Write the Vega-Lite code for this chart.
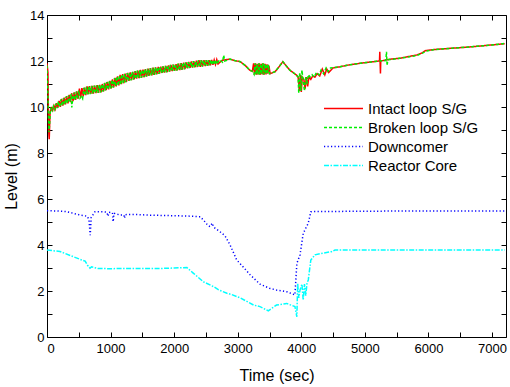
{
  "$schema": "https://vega.github.io/schema/vega-lite/v6.json",
  "autosize": "none",
  "width": 459,
  "height": 322,
  "padding": {"left": 47, "top": 15, "right": 4, "bottom": 50},
  "background": "white",
  "config": {
    "view": {"stroke": "black", "strokeWidth": 1},
    "font": "Liberation Sans",
    "axis": {"domain": false, "grid": false, "tickColor": "black", "tickSize": -5, "tickWidth": 1, "labelColor": "black", "labelFontSize": 13, "titleFontSize": 16, "titleFontWeight": "normal", "titleColor": "black", "labelFont": "Liberation Sans", "titleFont": "Liberation Sans"}
  },
  "data": {"values": [
{"s":"Intact loop S/G","t":0,"v":11.9},{"s":"Intact loop S/G","t":15,"v":11.5},{"s":"Intact loop S/G","t":25,"v":9.0},{"s":"Intact loop S/G","t":35,"v":8.6},{"s":"Intact loop S/G","t":45,"v":9.5},
{"s":"Intact loop S/G","t":50,"v":9.8},{"s":"Intact loop S/G","t":70,"v":9.95},{"s":"Intact loop S/G","t":90,"v":9.85},{"s":"Intact loop S/G","t":110,"v":10.06},{"s":"Intact loop S/G","t":130,"v":9.91},{"s":"Intact loop S/G","t":150,"v":10.17},{"s":"Intact loop S/G","t":170,"v":9.96},{"s":"Intact loop S/G","t":190,"v":10.27},{"s":"Intact loop S/G","t":210,"v":10.01},{"s":"Intact loop S/G","t":230,"v":10.35},{"s":"Intact loop S/G","t":250,"v":10.06},{"s":"Intact loop S/G","t":270,"v":10.41},{"s":"Intact loop S/G","t":290,"v":10.11},{"s":"Intact loop S/G","t":310,"v":10.47},{"s":"Intact loop S/G","t":330,"v":10.16},{"s":"Intact loop S/G","t":350,"v":10.53},{"s":"Intact loop S/G","t":370,"v":10.21},{"s":"Intact loop S/G","t":390,"v":10.59},{"s":"Intact loop S/G","t":410,"v":10.26},{"s":"Intact loop S/G","t":430,"v":10.64},{"s":"Intact loop S/G","t":450,"v":10.31},{"s":"Intact loop S/G","t":470,"v":10.68},{"s":"Intact loop S/G","t":490,"v":10.36},{"s":"Intact loop S/G","t":510,"v":10.8},{"s":"Intact loop S/G","t":530,"v":10.41},{"s":"Intact loop S/G","t":550,"v":10.82},{"s":"Intact loop S/G","t":570,"v":10.47},{"s":"Intact loop S/G","t":590,"v":10.84},{"s":"Intact loop S/G","t":610,"v":10.52},{"s":"Intact loop S/G","t":630,"v":10.9},{"s":"Intact loop S/G","t":650,"v":10.56},{"s":"Intact loop S/G","t":670,"v":10.91},{"s":"Intact loop S/G","t":690,"v":10.57},{"s":"Intact loop S/G","t":710,"v":10.92},{"s":"Intact loop S/G","t":730,"v":10.58},{"s":"Intact loop S/G","t":750,"v":10.93},{"s":"Intact loop S/G","t":770,"v":10.6},{"s":"Intact loop S/G","t":790,"v":10.95},{"s":"Intact loop S/G","t":810,"v":10.61},{"s":"Intact loop S/G","t":830,"v":10.96},{"s":"Intact loop S/G","t":850,"v":10.64},{"s":"Intact loop S/G","t":870,"v":11.0},{"s":"Intact loop S/G","t":890,"v":10.68},{"s":"Intact loop S/G","t":910,"v":11.05},{"s":"Intact loop S/G","t":930,"v":10.73},{"s":"Intact loop S/G","t":950,"v":11.09},{"s":"Intact loop S/G","t":970,"v":10.77},{"s":"Intact loop S/G","t":990,"v":11.14},{"s":"Intact loop S/G","t":1010,"v":10.81},{"s":"Intact loop S/G","t":1030,"v":11.2},{"s":"Intact loop S/G","t":1050,"v":10.85},{"s":"Intact loop S/G","t":1070,"v":11.27},{"s":"Intact loop S/G","t":1090,"v":10.9},{"s":"Intact loop S/G","t":1110,"v":11.33},{"s":"Intact loop S/G","t":1130,"v":10.94},{"s":"Intact loop S/G","t":1150,"v":11.4},{"s":"Intact loop S/G","t":1170,"v":10.99},{"s":"Intact loop S/G","t":1190,"v":11.43},{"s":"Intact loop S/G","t":1210,"v":11.04},{"s":"Intact loop S/G","t":1230,"v":11.45},{"s":"Intact loop S/G","t":1250,"v":11.09},{"s":"Intact loop S/G","t":1270,"v":11.48},{"s":"Intact loop S/G","t":1290,"v":11.14},{"s":"Intact loop S/G","t":1310,"v":11.51},{"s":"Intact loop S/G","t":1330,"v":11.17},{"s":"Intact loop S/G","t":1350,"v":11.53},{"s":"Intact loop S/G","t":1370,"v":11.2},{"s":"Intact loop S/G","t":1390,"v":11.56},{"s":"Intact loop S/G","t":1410,"v":11.23},{"s":"Intact loop S/G","t":1430,"v":11.58},{"s":"Intact loop S/G","t":1450,"v":11.25},{"s":"Intact loop S/G","t":1470,"v":11.61},{"s":"Intact loop S/G","t":1490,"v":11.28},{"s":"Intact loop S/G","t":1510,"v":11.63},{"s":"Intact loop S/G","t":1530,"v":11.3},{"s":"Intact loop S/G","t":1550,"v":11.65},{"s":"Intact loop S/G","t":1570,"v":11.33},{"s":"Intact loop S/G","t":1590,"v":11.67},{"s":"Intact loop S/G","t":1610,"v":11.36},{"s":"Intact loop S/G","t":1630,"v":11.69},{"s":"Intact loop S/G","t":1650,"v":11.38},{"s":"Intact loop S/G","t":1670,"v":11.71},{"s":"Intact loop S/G","t":1690,"v":11.4},{"s":"Intact loop S/G","t":1710,"v":11.72},{"s":"Intact loop S/G","t":1730,"v":11.43},{"s":"Intact loop S/G","t":1750,"v":11.74},{"s":"Intact loop S/G","t":1770,"v":11.45},{"s":"Intact loop S/G","t":1790,"v":11.75},{"s":"Intact loop S/G","t":1810,"v":11.48},{"s":"Intact loop S/G","t":1830,"v":11.77},{"s":"Intact loop S/G","t":1850,"v":11.5},{"s":"Intact loop S/G","t":1870,"v":11.79},{"s":"Intact loop S/G","t":1890,"v":11.52},{"s":"Intact loop S/G","t":1910,"v":11.81},{"s":"Intact loop S/G","t":1930,"v":11.54},{"s":"Intact loop S/G","t":1950,"v":11.83},{"s":"Intact loop S/G","t":1970,"v":11.56},{"s":"Intact loop S/G","t":1990,"v":11.84},{"s":"Intact loop S/G","t":2010,"v":11.57},{"s":"Intact loop S/G","t":2030,"v":11.86},{"s":"Intact loop S/G","t":2050,"v":11.59},{"s":"Intact loop S/G","t":2070,"v":11.89},{"s":"Intact loop S/G","t":2090,"v":11.6},{"s":"Intact loop S/G","t":2110,"v":11.91},{"s":"Intact loop S/G","t":2130,"v":11.63},{"s":"Intact loop S/G","t":2150,"v":11.93},{"s":"Intact loop S/G","t":2170,"v":11.65},{"s":"Intact loop S/G","t":2190,"v":11.94},{"s":"Intact loop S/G","t":2210,"v":11.68},{"s":"Intact loop S/G","t":2230,"v":11.96},{"s":"Intact loop S/G","t":2250,"v":11.7},{"s":"Intact loop S/G","t":2270,"v":11.98},{"s":"Intact loop S/G","t":2290,"v":11.71},{"s":"Intact loop S/G","t":2310,"v":11.99},{"s":"Intact loop S/G","t":2330,"v":11.73},{"s":"Intact loop S/G","t":2350,"v":12.01},{"s":"Intact loop S/G","t":2370,"v":11.74},{"s":"Intact loop S/G","t":2390,"v":12.04},{"s":"Intact loop S/G","t":2410,"v":11.75},{"s":"Intact loop S/G","t":2430,"v":12.04},{"s":"Intact loop S/G","t":2450,"v":11.77},{"s":"Intact loop S/G","t":2470,"v":12.04},{"s":"Intact loop S/G","t":2490,"v":11.78},{"s":"Intact loop S/G","t":2510,"v":12.04},{"s":"Intact loop S/G","t":2530,"v":11.79},{"s":"Intact loop S/G","t":2550,"v":12.04},{"s":"Intact loop S/G","t":2570,"v":11.81},{"s":"Intact loop S/G","t":2590,"v":12.05},{"s":"Intact loop S/G","t":2610,"v":11.83},{"s":"Intact loop S/G","t":2630,"v":12.05},{"s":"Intact loop S/G","t":2650,"v":11.85},{"s":"Intact loop S/G","t":2670,"v":12.06},{"s":"Intact loop S/G","t":2690,"v":11.87},
{"s":"Intact loop S/G","t":2750,"v":12.02},{"s":"Intact loop S/G","t":2800,"v":12.05},{"s":"Intact loop S/G","t":2880,"v":12.08},{"s":"Intact loop S/G","t":2950,"v":12.02},{"s":"Intact loop S/G","t":3040,"v":11.97},{"s":"Intact loop S/G","t":3120,"v":11.8},{"s":"Intact loop S/G","t":3190,"v":11.6},{"s":"Intact loop S/G","t":3230,"v":11.55},
{"s":"Intact loop S/G","t":3250,"v":11.9},{"s":"Intact loop S/G","t":3265,"v":11.42},{"s":"Intact loop S/G","t":3280,"v":11.9},{"s":"Intact loop S/G","t":3295,"v":11.4},{"s":"Intact loop S/G","t":3310,"v":11.88},{"s":"Intact loop S/G","t":3325,"v":11.42},{"s":"Intact loop S/G","t":3340,"v":11.9},{"s":"Intact loop S/G","t":3355,"v":11.4},{"s":"Intact loop S/G","t":3370,"v":11.88},{"s":"Intact loop S/G","t":3385,"v":11.42},{"s":"Intact loop S/G","t":3400,"v":11.9},{"s":"Intact loop S/G","t":3415,"v":11.4},{"s":"Intact loop S/G","t":3430,"v":11.88},{"s":"Intact loop S/G","t":3445,"v":11.42},{"s":"Intact loop S/G","t":3460,"v":11.86},{"s":"Intact loop S/G","t":3475,"v":11.45},{"s":"Intact loop S/G","t":3490,"v":11.8},{"s":"Intact loop S/G","t":3510,"v":11.45},
{"s":"Intact loop S/G","t":3590,"v":11.54},{"s":"Intact loop S/G","t":3650,"v":11.75},{"s":"Intact loop S/G","t":3710,"v":11.97},{"s":"Intact loop S/G","t":3760,"v":11.8},{"s":"Intact loop S/G","t":3820,"v":11.6},{"s":"Intact loop S/G","t":3870,"v":11.5},{"s":"Intact loop S/G","t":3920,"v":11.4},{"s":"Intact loop S/G","t":3950,"v":11.3},{"s":"Intact loop S/G","t":3970,"v":10.7},{"s":"Intact loop S/G","t":3985,"v":11.4},{"s":"Intact loop S/G","t":4000,"v":10.65},{"s":"Intact loop S/G","t":4015,"v":11.3},{"s":"Intact loop S/G","t":4040,"v":11.2},{"s":"Intact loop S/G","t":4060,"v":10.8},{"s":"Intact loop S/G","t":4080,"v":11.3},{"s":"Intact loop S/G","t":4100,"v":10.9},{"s":"Intact loop S/G","t":4120,"v":11.3},{"s":"Intact loop S/G","t":4150,"v":11.2},{"s":"Intact loop S/G","t":4180,"v":11.35},{"s":"Intact loop S/G","t":4215,"v":11.3},{"s":"Intact loop S/G","t":4250,"v":11.45},{"s":"Intact loop S/G","t":4290,"v":11.35},{"s":"Intact loop S/G","t":4330,"v":11.65},{"s":"Intact loop S/G","t":4370,"v":11.4},{"s":"Intact loop S/G","t":4400,"v":11.65},{"s":"Intact loop S/G","t":4430,"v":11.5},{"s":"Intact loop S/G","t":4500,"v":11.7},{"s":"Intact loop S/G","t":4610,"v":11.75},{"s":"Intact loop S/G","t":4750,"v":11.83},{"s":"Intact loop S/G","t":4924,"v":11.9},{"s":"Intact loop S/G","t":5100,"v":11.96},{"s":"Intact loop S/G","t":5230,"v":12.0},{"s":"Intact loop S/G","t":5235,"v":12.4},{"s":"Intact loop S/G","t":5245,"v":11.46},{"s":"Intact loop S/G","t":5250,"v":12.0},{"s":"Intact loop S/G","t":5400,"v":12.08},{"s":"Intact loop S/G","t":5553,"v":12.12},{"s":"Intact loop S/G","t":5700,"v":12.2},{"s":"Intact loop S/G","t":5815,"v":12.26},{"s":"Intact loop S/G","t":5900,"v":12.35},{"s":"Intact loop S/G","t":5950,"v":12.45},{"s":"Intact loop S/G","t":6100,"v":12.5},{"s":"Intact loop S/G","t":6340,"v":12.55},{"s":"Intact loop S/G","t":6600,"v":12.6},{"s":"Intact loop S/G","t":6810,"v":12.65},{"s":"Intact loop S/G","t":7000,"v":12.7},{"s":"Intact loop S/G","t":7200,"v":12.75},
{"s":"Broken loop S/G","t":0,"v":11.8},{"s":"Broken loop S/G","t":15,"v":10.5},{"s":"Broken loop S/G","t":30,"v":8.9},{"s":"Broken loop S/G","t":40,"v":9.2},{"s":"Broken loop S/G","t":50,"v":9.75},
{"s":"Broken loop S/G","t":60,"v":9.93},{"s":"Broken loop S/G","t":80,"v":9.84},{"s":"Broken loop S/G","t":100,"v":10.03},{"s":"Broken loop S/G","t":120,"v":9.89},{"s":"Broken loop S/G","t":140,"v":10.14},{"s":"Broken loop S/G","t":160,"v":9.95},{"s":"Broken loop S/G","t":180,"v":10.25},{"s":"Broken loop S/G","t":200,"v":10.0},{"s":"Broken loop S/G","t":220,"v":10.33},{"s":"Broken loop S/G","t":240,"v":10.05},{"s":"Broken loop S/G","t":260,"v":10.39},{"s":"Broken loop S/G","t":280,"v":10.1},{"s":"Broken loop S/G","t":300,"v":10.45},{"s":"Broken loop S/G","t":320,"v":10.15},{"s":"Broken loop S/G","t":340,"v":10.51},{"s":"Broken loop S/G","t":360,"v":10.2},{"s":"Broken loop S/G","t":380,"v":10.57},{"s":"Broken loop S/G","t":390,"v":9.98},{"s":"Broken loop S/G","t":400,"v":10.25},{"s":"Broken loop S/G","t":420,"v":10.62},{"s":"Broken loop S/G","t":440,"v":10.3},{"s":"Broken loop S/G","t":460,"v":10.67},{"s":"Broken loop S/G","t":480,"v":10.35},{"s":"Broken loop S/G","t":500,"v":10.71},{"s":"Broken loop S/G","t":520,"v":10.38},{"s":"Broken loop S/G","t":540,"v":10.45},{"s":"Broken loop S/G","t":560,"v":10.36},{"s":"Broken loop S/G","t":580,"v":10.83},{"s":"Broken loop S/G","t":600,"v":10.5},{"s":"Broken loop S/G","t":620,"v":10.88},{"s":"Broken loop S/G","t":640,"v":10.55},{"s":"Broken loop S/G","t":660,"v":10.91},{"s":"Broken loop S/G","t":680,"v":10.56},{"s":"Broken loop S/G","t":700,"v":10.92},{"s":"Broken loop S/G","t":720,"v":10.58},{"s":"Broken loop S/G","t":740,"v":10.93},{"s":"Broken loop S/G","t":760,"v":10.59},{"s":"Broken loop S/G","t":780,"v":10.94},{"s":"Broken loop S/G","t":800,"v":10.61},{"s":"Broken loop S/G","t":820,"v":10.96},{"s":"Broken loop S/G","t":840,"v":10.63},{"s":"Broken loop S/G","t":860,"v":10.99},{"s":"Broken loop S/G","t":880,"v":10.67},{"s":"Broken loop S/G","t":900,"v":11.04},{"s":"Broken loop S/G","t":920,"v":10.71},{"s":"Broken loop S/G","t":940,"v":11.08},{"s":"Broken loop S/G","t":960,"v":10.76},{"s":"Broken loop S/G","t":980,"v":11.12},{"s":"Broken loop S/G","t":1000,"v":10.8},{"s":"Broken loop S/G","t":1020,"v":11.18},{"s":"Broken loop S/G","t":1040,"v":10.84},{"s":"Broken loop S/G","t":1060,"v":11.25},{"s":"Broken loop S/G","t":1080,"v":10.89},{"s":"Broken loop S/G","t":1100,"v":11.32},{"s":"Broken loop S/G","t":1120,"v":10.93},{"s":"Broken loop S/G","t":1140,"v":11.38},{"s":"Broken loop S/G","t":1160,"v":10.97},{"s":"Broken loop S/G","t":1180,"v":11.42},{"s":"Broken loop S/G","t":1200,"v":11.02},{"s":"Broken loop S/G","t":1220,"v":11.45},{"s":"Broken loop S/G","t":1240,"v":11.07},{"s":"Broken loop S/G","t":1260,"v":11.47},{"s":"Broken loop S/G","t":1280,"v":11.12},{"s":"Broken loop S/G","t":1300,"v":11.5},{"s":"Broken loop S/G","t":1320,"v":11.16},{"s":"Broken loop S/G","t":1340,"v":11.53},{"s":"Broken loop S/G","t":1360,"v":11.19},{"s":"Broken loop S/G","t":1380,"v":11.55},{"s":"Broken loop S/G","t":1400,"v":11.22},{"s":"Broken loop S/G","t":1420,"v":11.58},{"s":"Broken loop S/G","t":1440,"v":11.25},{"s":"Broken loop S/G","t":1460,"v":11.6},{"s":"Broken loop S/G","t":1480,"v":11.27},{"s":"Broken loop S/G","t":1500,"v":11.62},{"s":"Broken loop S/G","t":1520,"v":11.3},{"s":"Broken loop S/G","t":1540,"v":11.65},{"s":"Broken loop S/G","t":1560,"v":11.32},{"s":"Broken loop S/G","t":1580,"v":11.66},{"s":"Broken loop S/G","t":1600,"v":11.35},{"s":"Broken loop S/G","t":1620,"v":11.69},{"s":"Broken loop S/G","t":1640,"v":11.37},{"s":"Broken loop S/G","t":1660,"v":11.7},{"s":"Broken loop S/G","t":1680,"v":11.4},{"s":"Broken loop S/G","t":1700,"v":11.72},{"s":"Broken loop S/G","t":1720,"v":11.42},{"s":"Broken loop S/G","t":1740,"v":11.73},{"s":"Broken loop S/G","t":1760,"v":11.44},{"s":"Broken loop S/G","t":1780,"v":11.75},{"s":"Broken loop S/G","t":1800,"v":11.47},{"s":"Broken loop S/G","t":1820,"v":11.77},{"s":"Broken loop S/G","t":1840,"v":11.49},{"s":"Broken loop S/G","t":1860,"v":11.79},{"s":"Broken loop S/G","t":1880,"v":11.51},{"s":"Broken loop S/G","t":1900,"v":11.81},{"s":"Broken loop S/G","t":1920,"v":11.54},{"s":"Broken loop S/G","t":1940,"v":11.83},{"s":"Broken loop S/G","t":1960,"v":11.55},{"s":"Broken loop S/G","t":1980,"v":11.84},{"s":"Broken loop S/G","t":2000,"v":11.57},{"s":"Broken loop S/G","t":2020,"v":11.86},{"s":"Broken loop S/G","t":2040,"v":11.58},{"s":"Broken loop S/G","t":2060,"v":11.88},{"s":"Broken loop S/G","t":2080,"v":11.6},{"s":"Broken loop S/G","t":2100,"v":11.9},{"s":"Broken loop S/G","t":2120,"v":11.62},{"s":"Broken loop S/G","t":2140,"v":11.92},{"s":"Broken loop S/G","t":2160,"v":11.64},{"s":"Broken loop S/G","t":2180,"v":11.94},{"s":"Broken loop S/G","t":2200,"v":11.67},{"s":"Broken loop S/G","t":2220,"v":11.95},{"s":"Broken loop S/G","t":2240,"v":11.69},{"s":"Broken loop S/G","t":2260,"v":11.97},{"s":"Broken loop S/G","t":2280,"v":11.71},{"s":"Broken loop S/G","t":2300,"v":11.99},{"s":"Broken loop S/G","t":2320,"v":11.72},{"s":"Broken loop S/G","t":2340,"v":12.0},{"s":"Broken loop S/G","t":2360,"v":11.74},{"s":"Broken loop S/G","t":2380,"v":12.03},{"s":"Broken loop S/G","t":2400,"v":11.75},{"s":"Broken loop S/G","t":2420,"v":12.04},{"s":"Broken loop S/G","t":2440,"v":11.76},{"s":"Broken loop S/G","t":2460,"v":12.04},{"s":"Broken loop S/G","t":2480,"v":11.78},{"s":"Broken loop S/G","t":2500,"v":12.04},{"s":"Broken loop S/G","t":2520,"v":11.79},{"s":"Broken loop S/G","t":2540,"v":12.04},{"s":"Broken loop S/G","t":2560,"v":11.81},{"s":"Broken loop S/G","t":2580,"v":12.05},{"s":"Broken loop S/G","t":2600,"v":11.83},{"s":"Broken loop S/G","t":2620,"v":12.05},{"s":"Broken loop S/G","t":2640,"v":11.84},{"s":"Broken loop S/G","t":2660,"v":12.05},{"s":"Broken loop S/G","t":2680,"v":11.86},{"s":"Broken loop S/G","t":2710,"v":12.06},
{"s":"Broken loop S/G","t":2760,"v":11.95},{"s":"Broken loop S/G","t":2780,"v":12.25},{"s":"Broken loop S/G","t":2795,"v":12.0},{"s":"Broken loop S/G","t":2880,"v":12.08},{"s":"Broken loop S/G","t":2950,"v":12.02},{"s":"Broken loop S/G","t":3040,"v":11.97},{"s":"Broken loop S/G","t":3120,"v":11.8},{"s":"Broken loop S/G","t":3190,"v":11.6},{"s":"Broken loop S/G","t":3230,"v":11.55},
{"s":"Broken loop S/G","t":3257,"v":11.42},{"s":"Broken loop S/G","t":3272,"v":11.9},{"s":"Broken loop S/G","t":3287,"v":11.4},{"s":"Broken loop S/G","t":3302,"v":11.88},{"s":"Broken loop S/G","t":3317,"v":11.42},{"s":"Broken loop S/G","t":3332,"v":11.9},{"s":"Broken loop S/G","t":3347,"v":11.4},{"s":"Broken loop S/G","t":3362,"v":11.88},{"s":"Broken loop S/G","t":3377,"v":11.42},{"s":"Broken loop S/G","t":3392,"v":11.9},{"s":"Broken loop S/G","t":3407,"v":11.4},{"s":"Broken loop S/G","t":3422,"v":11.88},{"s":"Broken loop S/G","t":3437,"v":11.42},{"s":"Broken loop S/G","t":3452,"v":11.86},{"s":"Broken loop S/G","t":3467,"v":11.44},{"s":"Broken loop S/G","t":3482,"v":11.84},{"s":"Broken loop S/G","t":3500,"v":11.45},
{"s":"Broken loop S/G","t":3590,"v":11.54},{"s":"Broken loop S/G","t":3650,"v":11.75},{"s":"Broken loop S/G","t":3710,"v":11.97},{"s":"Broken loop S/G","t":3760,"v":11.8},{"s":"Broken loop S/G","t":3820,"v":11.6},{"s":"Broken loop S/G","t":3870,"v":11.5},{"s":"Broken loop S/G","t":3920,"v":11.4},{"s":"Broken loop S/G","t":3950,"v":11.3},{"s":"Broken loop S/G","t":3960,"v":10.6},{"s":"Broken loop S/G","t":3975,"v":11.5},{"s":"Broken loop S/G","t":3995,"v":10.7},{"s":"Broken loop S/G","t":4010,"v":11.6},{"s":"Broken loop S/G","t":4030,"v":11.1},{"s":"Broken loop S/G","t":4050,"v":10.7},{"s":"Broken loop S/G","t":4070,"v":11.3},{"s":"Broken loop S/G","t":4090,"v":11.0},{"s":"Broken loop S/G","t":4110,"v":11.4},{"s":"Broken loop S/G","t":4140,"v":11.3},{"s":"Broken loop S/G","t":4170,"v":11.4},{"s":"Broken loop S/G","t":4200,"v":11.3},{"s":"Broken loop S/G","t":4240,"v":11.5},{"s":"Broken loop S/G","t":4280,"v":11.4},{"s":"Broken loop S/G","t":4310,"v":11.6},{"s":"Broken loop S/G","t":4350,"v":11.45},{"s":"Broken loop S/G","t":4390,"v":11.7},{"s":"Broken loop S/G","t":4420,"v":11.55},{"s":"Broken loop S/G","t":4460,"v":11.7},{"s":"Broken loop S/G","t":4610,"v":11.75},{"s":"Broken loop S/G","t":4750,"v":11.83},{"s":"Broken loop S/G","t":4924,"v":11.9},{"s":"Broken loop S/G","t":5100,"v":11.96},{"s":"Broken loop S/G","t":5230,"v":12.0},{"s":"Broken loop S/G","t":5330,"v":12.02},{"s":"Broken loop S/G","t":5340,"v":12.4},{"s":"Broken loop S/G","t":5350,"v":11.8},{"s":"Broken loop S/G","t":5360,"v":12.05},{"s":"Broken loop S/G","t":5450,"v":12.08},{"s":"Broken loop S/G","t":5553,"v":12.12},{"s":"Broken loop S/G","t":5700,"v":12.18},{"s":"Broken loop S/G","t":5815,"v":12.24},{"s":"Broken loop S/G","t":5900,"v":12.33},{"s":"Broken loop S/G","t":5950,"v":12.42},{"s":"Broken loop S/G","t":6100,"v":12.5},{"s":"Broken loop S/G","t":6340,"v":12.55},{"s":"Broken loop S/G","t":6500,"v":12.58},{"s":"Broken loop S/G","t":6810,"v":12.65},{"s":"Broken loop S/G","t":7000,"v":12.7},{"s":"Broken loop S/G","t":7200,"v":12.76},
{"s":"Downcomer","t":0,"v":5.49},{"s":"Downcomer","t":150,"v":5.48},{"s":"Downcomer","t":310,"v":5.45},{"s":"Downcomer","t":520,"v":5.3},{"s":"Downcomer","t":634,"v":5.25},{"s":"Downcomer","t":660,"v":5.1},{"s":"Downcomer","t":680,"v":4.43},{"s":"Downcomer","t":695,"v":5.2},{"s":"Downcomer","t":720,"v":5.3},{"s":"Downcomer","t":755,"v":5.45},{"s":"Downcomer","t":900,"v":5.44},{"s":"Downcomer","t":940,"v":5.43},{"s":"Downcomer","t":960,"v":5.25},{"s":"Downcomer","t":975,"v":5.42},{"s":"Downcomer","t":1030,"v":5.4},{"s":"Downcomer","t":1040,"v":5.01},{"s":"Downcomer","t":1055,"v":5.38},{"s":"Downcomer","t":1150,"v":5.3},{"s":"Downcomer","t":1210,"v":5.3},{"s":"Downcomer","t":1220,"v":5.16},{"s":"Downcomer","t":1230,"v":5.32},{"s":"Downcomer","t":1360,"v":5.33},{"s":"Downcomer","t":1600,"v":5.3},{"s":"Downcomer","t":1880,"v":5.28},{"s":"Downcomer","t":2200,"v":5.26},{"s":"Downcomer","t":2410,"v":5.23},{"s":"Downcomer","t":2485,"v":5.01},{"s":"Downcomer","t":2530,"v":4.85},{"s":"Downcomer","t":2565,"v":4.8},{"s":"Downcomer","t":2600,"v":4.95},{"s":"Downcomer","t":2620,"v":4.78},{"s":"Downcomer","t":2720,"v":4.58},{"s":"Downcomer","t":2800,"v":4.4},{"s":"Downcomer","t":2880,"v":4.0},{"s":"Downcomer","t":2984,"v":3.35},{"s":"Downcomer","t":3100,"v":3.0},{"s":"Downcomer","t":3190,"v":2.72},{"s":"Downcomer","t":3350,"v":2.3},{"s":"Downcomer","t":3500,"v":2.12},{"s":"Downcomer","t":3610,"v":2.04},{"s":"Downcomer","t":3770,"v":1.97},{"s":"Downcomer","t":3900,"v":1.83},{"s":"Downcomer","t":3930,"v":3.2},{"s":"Downcomer","t":3980,"v":3.57},{"s":"Downcomer","t":4030,"v":4.5},{"s":"Downcomer","t":4110,"v":4.95},{"s":"Downcomer","t":4150,"v":5.45},{"s":"Downcomer","t":5000,"v":5.47},{"s":"Downcomer","t":6000,"v":5.48},{"s":"Downcomer","t":7200,"v":5.48},
{"s":"Reactor Core","t":0,"v":3.78},{"s":"Reactor Core","t":204,"v":3.72},{"s":"Reactor Core","t":415,"v":3.49},{"s":"Reactor Core","t":545,"v":3.35},{"s":"Reactor Core","t":600,"v":3.3},{"s":"Reactor Core","t":635,"v":3.13},{"s":"Reactor Core","t":676,"v":2.99},{"s":"Reactor Core","t":700,"v":3.05},{"s":"Reactor Core","t":800,"v":2.98},{"s":"Reactor Core","t":1000,"v":2.97},{"s":"Reactor Core","t":1200,"v":2.98},{"s":"Reactor Core","t":1500,"v":2.98},{"s":"Reactor Core","t":1800,"v":2.98},{"s":"Reactor Core","t":2000,"v":3.0},{"s":"Reactor Core","t":2200,"v":3.02},{"s":"Reactor Core","t":2300,"v":2.78},{"s":"Reactor Core","t":2460,"v":2.4},{"s":"Reactor Core","t":2620,"v":2.19},{"s":"Reactor Core","t":2700,"v":2.05},{"s":"Reactor Core","t":2830,"v":1.9},{"s":"Reactor Core","t":2900,"v":1.85},{"s":"Reactor Core","t":3040,"v":1.7},{"s":"Reactor Core","t":3250,"v":1.39},{"s":"Reactor Core","t":3350,"v":1.32},{"s":"Reactor Core","t":3480,"v":1.14},{"s":"Reactor Core","t":3610,"v":1.39},{"s":"Reactor Core","t":3770,"v":1.46},{"s":"Reactor Core","t":3900,"v":1.32},{"s":"Reactor Core","t":3930,"v":0.88},{"s":"Reactor Core","t":3943,"v":2.33},{"s":"Reactor Core","t":3960,"v":1.7},{"s":"Reactor Core","t":3980,"v":2.04},{"s":"Reactor Core","t":4010,"v":2.3},{"s":"Reactor Core","t":4030,"v":1.6},{"s":"Reactor Core","t":4050,"v":2.3},{"s":"Reactor Core","t":4070,"v":1.8},{"s":"Reactor Core","t":4090,"v":2.35},{"s":"Reactor Core","t":4110,"v":2.48},{"s":"Reactor Core","t":4150,"v":3.35},{"s":"Reactor Core","t":4215,"v":3.57},{"s":"Reactor Core","t":4345,"v":3.65},{"s":"Reactor Core","t":4475,"v":3.71},{"s":"Reactor Core","t":4530,"v":3.78},{"s":"Reactor Core","t":7200,"v":3.78}
  ]},
  "layer": [
    {
      "mark": {"type": "line", "strokeWidth": 1.5, "clip": true},
      "encoding": {
        "x": {"field": "t", "type": "quantitative", "title": "Time (sec)", "scale": {"domain": [0, 7220], "nice": false, "zero": false},
          "axis": {"orient": "bottom", "values": [0,500,1000,1500,2000,2500,3000,3500,4000,4500,5000,5500,6000,6500,7000], "labelExpr": "datum.value % 1000 === 0 ? datum.label : ''", "labelPadding": 10, "titlePadding": 12, "format": "d"}},
        "y": {"field": "v", "type": "quantitative", "title": "Level (m)", "scale": {"domain": [0, 14], "nice": false},
          "axis": {"orient": "left", "values": [0,1,2,3,4,5,6,7,8,9,10,11,12,13,14], "labelExpr": "datum.value % 2 === 0 ? datum.label : ''", "labelPadding": 8, "titlePadding": 10}},
        "color": {"field": "s", "type": "nominal", "scale": {"domain": ["Intact loop S/G", "Broken loop S/G", "Downcomer", "Reactor Core"], "range": ["#ff0000", "#00ee00", "#0000ff", "#00ffff"]},
          "legend": {"title": null, "orient": "none", "legendX": 286, "legendY": 83, "symbolType": "M-2,0L2,0", "symbolSize": 380, "symbolStrokeWidth": 1.5, "labelFontSize": 15, "labelColor": "black", "labelFont": "Liberation Sans", "rowPadding": 0, "labelOffset": 14}},
        "strokeDash": {"field": "s", "type": "nominal", "scale": {"domain": ["Intact loop S/G", "Broken loop S/G", "Downcomer", "Reactor Core"], "range": [[1, 0], [3, 2], [1.2, 2.3], [5, 1.5, 1.5, 1.5]]}, "legend": null},
        "order": {"field": "t", "type": "quantitative"}
      }
    },
    {
      "mark": {"type": "line", "opacity": 0},
      "encoding": {
        "x": {"field": "t", "type": "quantitative", "scale": {"domain": [0, 7220], "nice": false, "zero": false},
          "axis": {"orient": "top", "values": [0,500,1000,1500,2000,2500,3000,3500,4000,4500,5000,5500,6000,6500,7000], "labels": false, "title": null}},
        "y": {"field": "v", "type": "quantitative", "scale": {"domain": [0, 14], "nice": false},
          "axis": {"orient": "right", "values": [0,1,2,3,4,5,6,7,8,9,10,11,12,13,14], "labels": false, "title": null}},
        "detail": {"field": "s"}
      }
    }
  ],
  "resolve": {"axis": {"x": "independent", "y": "independent"}}
}
